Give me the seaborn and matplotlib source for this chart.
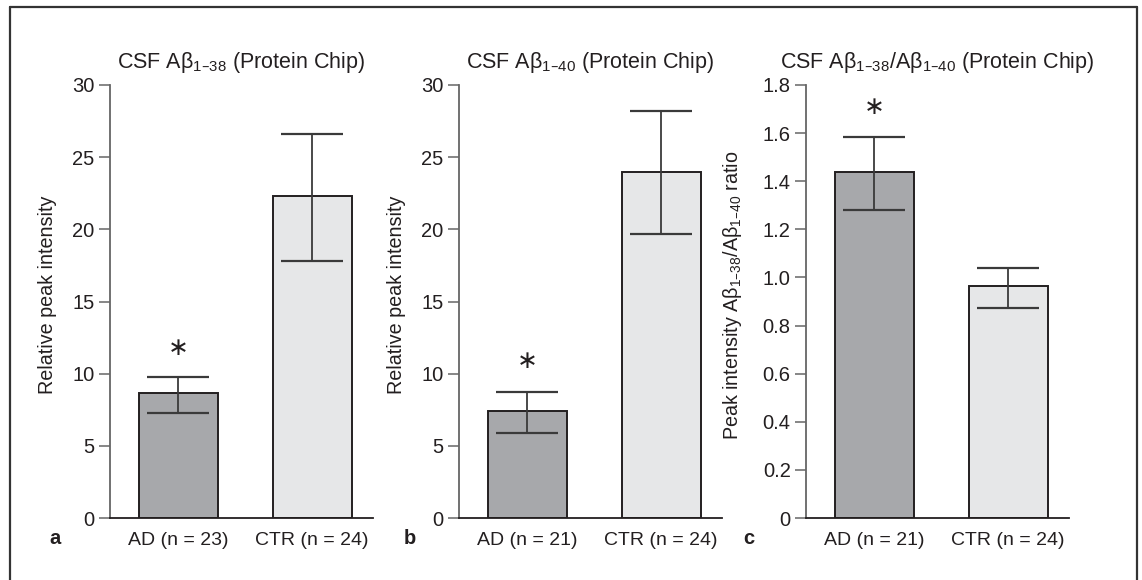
import matplotlib
matplotlib.use("Agg")
import matplotlib.pyplot as plt
import seaborn as sns
import pandas as pd
import numpy as np
from matplotlib.lines import Line2D

# ---------------- data ----------------
titles = ["CSF Aβ$_{1–38}$ (Protein Chip)",
          "CSF Aβ$_{1–40}$ (Protein Chip)",
          "CSF Aβ$_{1–38}$/Aβ$_{1–40}$ (Protein Chip)"]
ylabels = ["Relative peak intensity",
           "Relative peak intensity",
           "Peak intensity Aβ$_{1–38}$/Aβ$_{1–40}$ ratio"]
panel_letters = ["a", "b", "c"]
groups_a = ["AD (n = 23)", "CTR (n = 24)"]
groups_b = ["AD (n = 21)", "CTR (n = 24)"]
groups_c = ["AD (n = 21)", "CTR (n = 24)"]
means_a = [8.65, 22.3]
means_b = [7.4, 23.95]
means_c = [1.44, 0.965]
err_low_a = [7.3, 17.8]
err_high_a = [9.75, 26.6]
err_low_b = [5.9, 19.7]
err_high_b = [8.7, 28.2]
err_low_c = [1.28, 0.875]
err_high_c = [1.585, 1.04]
star_y = [11.8, 10.9, 1.71]
yticks_ab = [0, 5, 10, 15, 20, 25, 30]
yticklabels_ab = ["0", "5", "10", "15", "20", "25", "30"]
yticks_c = [0, 0.2, 0.4, 0.6, 0.8, 1.0, 1.2, 1.4, 1.6, 1.8]
yticklabels_c = ["0", "0.2", "0.4", "0.6", "0.8", "1.0", "1.2", "1.4", "1.6", "1.8"]

bar_colors = ["#a7a8ab", "#e6e7e8"]
txt = "#231f20"

sns.set_theme(style="white")
plt.rcParams["font.family"] = ["Liberation Sans", "DejaVu Sans"]
plt.rcParams["mathtext.default"] = "regular"
plt.rcParams["text.color"] = txt
plt.rcParams["axes.labelcolor"] = txt
plt.rcParams["xtick.color"] = txt
plt.rcParams["ytick.color"] = txt

fig = plt.figure(figsize=(11.42, 5.80), dpi=100)
W, H = 1142, 580
lefts = [110, 459, 806]
aw = 263
bottom_px, top_px = 518, 85

panels = [
    (groups_a, means_a, err_low_a, err_high_a, yticks_ab, yticklabels_ab, 30),
    (groups_b, means_b, err_low_b, err_high_b, yticks_ab, yticklabels_ab, 30),
    (groups_c, means_c, err_low_c, err_high_c, yticks_c, yticklabels_c, 1.8),
]
ylab_x = [-0.2015, -0.2015, -0.235]

for i, (groups, means, lo, hi, yt, ytl, ymax) in enumerate(panels):
    ax = fig.add_axes([lefts[i] / W, 1 - bottom_px / H, aw / W, (bottom_px - top_px) / H])
    df = pd.DataFrame({"group": groups, "value": means})
    sns.barplot(data=df, x="group", y="value", hue="group", palette=bar_colors,
                legend=False, width=0.59, edgecolor="#231f20", linewidth=1.4,
                errorbar=None, ax=ax, saturation=1)
    m = np.array(means)
    yerr = np.vstack([m - np.array(lo), np.array(hi) - m])
    ax.errorbar([0, 1], m, yerr=yerr, fmt="none", ecolor="#3a3a3a",
                elinewidth=1.3, capsize=22, capthick=1.6, zorder=5)
    ax.text(0, star_y[i], "∗", ha="center", va="center", fontsize=18,
            family="DejaVu Sans", color=txt)
    ax.set_xlim(-0.51, 1.455)
    ax.set_ylim(0, ymax)
    ax.set_yticks(yt)
    ax.set_yticklabels(ytl)
    ax.tick_params(axis="y", which="both", left=True, length=8, width=1.1,
                   color="#666666", labelsize=14.5, pad=3)
    ax.tick_params(axis="x", bottom=False, labelsize=14, pad=4)
    ax.set_xlabel("")
    ax.set_ylabel(ylabels[i], fontsize=14.2)
    ax.yaxis.set_label_coords(ylab_x[i], 0.515)
    ax.set_title(titles[i], fontsize=15.5, pad=12, color=txt)
    for s in ["top", "right"]:
        ax.spines[s].set_visible(False)
    ax.spines["left"].set_color("#666666")
    ax.spines["left"].set_linewidth(1.3)
    ax.spines["bottom"].set_color("#231f20")
    ax.spines["bottom"].set_linewidth(1.3)
    ax.set_facecolor("white")

letter_x = [55, 410, 749]
for lx, lt in zip(letter_x, panel_letters):
    fig.text(lx / W, 1 - 538 / H, lt, ha="center", va="center", fontsize=14.5,
             fontweight="bold", color=txt)

# frame
fc = "#333333"
fig.add_artist(Line2D([10 / W, 1137 / W], [1 - 7 / H, 1 - 7 / H], color=fc, lw=1.6))
fig.add_artist(Line2D([10 / W, 10 / W], [0, 1 - 7 / H], color=fc, lw=1.6))
fig.add_artist(Line2D([1137 / W, 1137 / W], [0, 1 - 7 / H], color=fc, lw=1.6))

fig.savefig("out.png", dpi=100, facecolor="white")
